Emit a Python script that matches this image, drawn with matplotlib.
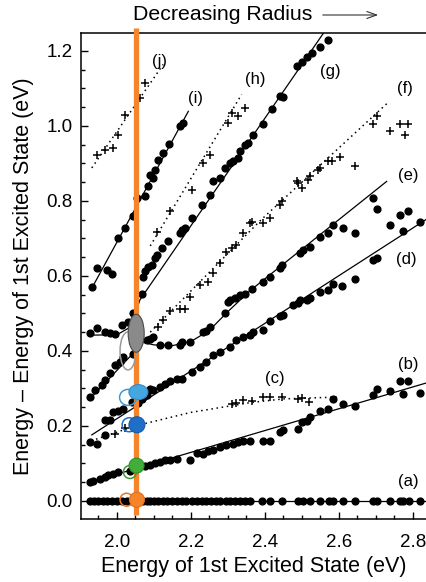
import matplotlib
matplotlib.use("Agg")
import matplotlib.pyplot as plt
from matplotlib.patches import Ellipse
from matplotlib.ticker import MultipleLocator

plt.rcParams['font.family'] = ['Liberation Sans', 'DejaVu Sans']

# ---- data (x = energy of 1st excited state, y = relative energy, eV) ----
a_x = [1.927, 1.938, 1.949, 1.963, 1.974, 1.986, 1.999, 2.013, 2.026, 2.044,
       2.071, 2.080, 2.089, 2.100, 2.112, 2.125, 2.136, 2.148, 2.161, 2.175,
       2.186, 2.202, 2.215, 2.229, 2.241, 2.253, 2.268, 2.278, 2.294, 2.305,
       2.319, 2.332, 2.346, 2.359, 2.391, 2.414, 2.445, 2.490, 2.503, 2.522,
       2.549, 2.572, 2.585, 2.610, 2.643, 2.693, 2.702, 2.738, 2.765, 2.774,
       2.788, 2.819]
a_y = [0.0] * len(a_x)

b_x = [1.927, 1.936, 1.954, 1.968, 1.976, 1.990, 2.004, 2.035, 2.076, 2.089,
       2.103, 2.116, 2.130, 2.143, 2.161, 2.197, 2.215, 2.233, 2.247, 2.260,
       2.278, 2.296, 2.314, 2.328, 2.341, 2.359, 2.395, 2.414, 2.441, 2.449,
       2.490, 2.499, 2.513, 2.522, 2.549, 2.571, 2.610, 2.643, 2.693, 2.702,
       2.738, 2.765, 2.774, 2.787, 2.819]
b_y = [0.050, 0.054, 0.059, 0.063, 0.068, 0.072, 0.077, 0.081, 0.093, 0.096,
       0.102, 0.105, 0.108, 0.110, 0.112, 0.110, 0.128, 0.126, 0.134, 0.137,
       0.143, 0.148, 0.152, 0.157, 0.161, 0.161, 0.161, 0.161, 0.185, 0.190,
       0.191, 0.210, 0.212, 0.224, 0.241, 0.246, 0.259, 0.253, 0.283, 0.298,
       0.292, 0.319, 0.284, 0.319, 0.289]

c_dot_x = [1.927, 1.945, 1.968, 2.585]
c_dot_y = [0.157, 0.152, 0.175, 0.273]
c_plus_x = [1.995, 2.022, 2.310, 2.323, 2.341, 2.364, 2.395, 2.414, 2.445, 2.490,
            2.499, 2.520]
c_plus_y = [0.179, 0.194, 0.259, 0.262, 0.268, 0.266, 0.277, 0.277, 0.277, 0.273,
            0.275, 0.264]

d_x = [1.968, 1.981, 1.990, 2.004, 2.017, 2.040, 2.058, 2.067, 2.080, 2.089,
       2.098, 2.116, 2.130, 2.143, 2.161, 2.175, 2.202, 2.224, 2.242, 2.260,
       2.278, 2.305, 2.323, 2.341, 2.359, 2.369, 2.395, 2.414, 2.441, 2.449,
       2.477, 2.490, 2.495, 2.513, 2.522, 2.549, 2.571, 2.583, 2.607, 2.643,
       2.693, 2.702, 2.774, 2.819]
d_y = [0.215, 0.215, 0.237, 0.241, 0.246, 0.264, 0.262, 0.273, 0.282, 0.299,
       0.295, 0.304, 0.313, 0.319, 0.326, 0.326, 0.344, 0.357, 0.371, 0.389,
       0.398, 0.411, 0.429, 0.438, 0.442, 0.451, 0.455, 0.480, 0.493, 0.497,
       0.522, 0.527, 0.536, 0.537, 0.540, 0.557, 0.562, 0.578, 0.574, 0.592,
       0.643, 0.649, 0.720, 0.745]

# lower branch running into the anticrossing, then flattening out as (e)
e_x = [1.927, 1.941, 1.959, 1.968, 1.981, 1.995, 2.008, 2.017, 2.044,
       2.080, 2.089, 2.098, 2.116, 2.139, 2.170, 2.175, 2.197, 2.233, 2.242,
       2.251, 2.292, 2.301, 2.305, 2.319, 2.332, 2.346, 2.364, 2.395, 2.414,
       2.441, 2.445, 2.495, 2.504, 2.522, 2.549, 2.571, 2.585, 2.610, 2.643,
       2.693, 2.702, 2.738, 2.765, 2.787]
e_y = [0.277, 0.295, 0.308, 0.322, 0.340, 0.362, 0.371, 0.384, 0.393,
       0.429, 0.433, 0.437, 0.415, 0.417, 0.415, 0.424, 0.425, 0.451, 0.453,
       0.464, 0.500, 0.531, 0.536, 0.540, 0.549, 0.553, 0.565, 0.585, 0.598,
       0.620, 0.628, 0.660, 0.669, 0.676, 0.705, 0.714, 0.736, 0.727, 0.714,
       0.807, 0.779, 0.736, 0.762, 0.773]

f_x = [2.112, 2.125, 2.143, 2.170, 2.184, 2.197, 2.224, 2.247, 2.260, 2.278,
       2.296, 2.310, 2.323, 2.341, 2.359, 2.364, 2.395, 2.414, 2.441, 2.445,
       2.486, 2.490, 2.499, 2.517, 2.522, 2.544, 2.549, 2.571, 2.580, 2.603,
       2.643, 2.693, 2.702, 2.738, 2.765, 2.778, 2.787]
f_y = [0.464, 0.482, 0.506, 0.513, 0.513, 0.545, 0.576, 0.585, 0.607, 0.634,
       0.665, 0.674, 0.683, 0.714, 0.741, 0.745, 0.741, 0.754, 0.790, 0.799,
       0.852, 0.848, 0.834, 0.856, 0.866, 0.883, 0.888, 0.906, 0.906, 0.916,
       0.892, 1.004, 1.026, 0.986, 1.004, 0.977, 1.004]

# upper branch: flat part left of the anticrossing, then (g)
g_x = [1.927, 1.945, 1.968, 1.981, 1.995, 2.013, 2.031, 2.044,
       2.067, 2.071, 2.076, 2.085, 2.094, 2.103, 2.107, 2.121, 2.139, 2.170,
       2.175, 2.184, 2.202, 2.229, 2.251, 2.260, 2.278, 2.292, 2.305, 2.314,
       2.328, 2.332, 2.346, 2.355, 2.369, 2.395, 2.418, 2.441, 2.449, 2.486,
       2.499, 2.513, 2.526, 2.549, 2.571]
g_y = [0.447, 0.460, 0.451, 0.447, 0.445, 0.469, 0.478, 0.500,
       0.553, 0.598, 0.612, 0.625, 0.629, 0.647, 0.656, 0.674, 0.692, 0.714,
       0.723, 0.727, 0.754, 0.790, 0.816, 0.852, 0.861, 0.888, 0.901, 0.906,
       0.914, 0.934, 0.950, 0.955, 0.977, 1.005, 1.044, 1.081, 1.077, 1.160,
       1.171, 1.184, 1.195, 1.210, 1.228]

h_x = [2.107, 2.143, 2.202, 2.233, 2.251, 2.301, 2.310, 2.328, 2.346]
h_y = [0.718, 0.772, 0.830, 0.901, 0.923, 1.008, 1.035, 1.026, 1.048]

i_x = [1.932, 1.945, 1.972, 1.986, 2.004, 2.022, 2.044, 2.053, 2.076, 2.085,
       2.089, 2.098, 2.103, 2.112, 2.125, 2.141, 2.170, 2.179]
i_y = [0.571, 0.620, 0.616, 0.605, 0.701, 0.727, 0.759, 0.807, 0.812, 0.839,
       0.870, 0.861, 0.883, 0.910, 0.928, 0.953, 1.001, 1.008]

j_x = [1.945, 1.968, 1.990, 2.004, 2.022, 2.062, 2.076]
j_y = [0.923, 0.937, 0.941, 0.977, 1.030, 1.075, 1.115]

# fitted curves (solid) and guides (dotted)
fit_a = ([1.920, 2.838], [0.0, 0.0])
fit_b = ([1.927, 2.838], [0.050, 0.315])
fit_d = ([1.932, 2.838], [0.176, 0.752])
fit_e = ([1.930, 2.045, 2.060, 2.100, 2.150, 2.200, 2.250, 2.300, 2.359, 2.729],
         [0.275, 0.395, 0.425, 0.416, 0.414, 0.425, 0.455, 0.505, 0.560, 0.852])
fit_g = ([1.927, 2.000, 2.030, 2.050, 2.062, 2.562],
         [0.442, 0.443, 0.460, 0.500, 0.536, 1.253])
fit_i = ([1.933, 2.193], [0.569, 1.039])
guide_c = ([1.930, 2.050, 2.200, 2.360, 2.450, 2.600],
           [0.160, 0.200, 0.236, 0.262, 0.272, 0.277])
guide_f = ([2.090, 2.390, 2.730], [0.450, 0.750, 1.060])
guide_h = ([2.090, 2.337], [0.680, 1.084])
guide_j = ([1.932, 2.125], [0.888, 1.164])

labels = ['(a)', '(b)', '(c)', '(d)', '(e)', '(f)', '(g)', '(h)', '(i)', '(j)']
label_x = [2.787, 2.787, 2.427, 2.783, 2.787, 2.778, 2.576, 2.373, 2.211, 2.116]
label_y = [0.052, 0.363, 0.327, 0.643, 0.869, 1.100, 1.145, 1.123, 1.074, 1.171]

marker_e = 2.051

fig = plt.figure(figsize=(4.27, 5.82), dpi=100)
ax = fig.add_axes([80.7 / 427, 1 - 518.5 / 582, 1 - 80.7 / 427, (518.5 - 33.3) / 582])

dot = dict(ls='none', marker='o', ms=4.9, color='black', zorder=2)
plus = dict(ls='none', marker='+', ms=5.5, mew=1.1, color='black', zorder=2)

for xs, ys in [(a_x, a_y), (b_x, b_y), (c_dot_x, c_dot_y), (d_x, d_y),
               (e_x, e_y), (g_x, g_y), (i_x, i_y)]:
    ax.plot(xs, ys, **dot)
for xs, ys in [(c_plus_x, c_plus_y), (f_x, f_y), (h_x, h_y), (j_x, j_y)]:
    ax.plot(xs, ys, **plus)

for xs, ys in [fit_a, fit_b, fit_d, fit_e, fit_g, fit_i]:
    ax.plot(xs, ys, color='black', lw=0.9, zorder=2)
for xs, ys in [guide_c, guide_f, guide_h, guide_j]:
    ax.plot(xs, ys, color='black', lw=1.1, ls=(0, (1, 2.4)), zorder=2)

for t, x, y in zip(labels, label_x, label_y):
    ax.text(x, y, t, fontsize=12, ha='center', va='center')

# orange marker line at the chosen dot size
ax.plot([marker_e, marker_e], [-0.037, 1.261], color='#f5842b', lw=3.8,
        solid_capstyle='butt', zorder=3, clip_on=False)

px = 1 / 370.0   # data units per pixel along x
py = 1 / 375.0   # data units per pixel along y
shapes = [
    # (x, y, w_px, h_px, colour)
    (2.026, 0.003, 13, 13, '#e8762a'),
    (2.035, 0.077, 13, 13, '#3a9a35'),
    (2.033, 0.203, 14, 14, '#1f6fc1'),
    (2.030, 0.276, 17, 16, '#3a9bd8'),
    (2.030, 0.400, 16, 38, '#9a9a9a'),
]
for x, y, w, h, c in shapes:
    ax.add_patch(Ellipse((x, y), w * px, h * py, fill=False, ec=c, lw=1.1, zorder=4))

filled = [
    (2.054, 0.003, 15, 15, '#f5842b', '#e06f1c'),
    (2.053, 0.094, 15, 15, '#43ad3b', '#2f8f2a'),
    (2.054, 0.203, 16, 16, '#1f6fc9', '#185aa5'),
    (2.058, 0.290, 19, 15, '#45a6e0', '#2f8ccb'),
    (2.052, 0.447, 16, 38, '#8a8a8a', '#4a4a4a'),
]
for x, y, w, h, c, ec in filled:
    ax.add_patch(Ellipse((x, y), w * px, h * py, fc=c, ec=ec, lw=0.8, zorder=5))

ax.set_xlim(1.902, 2.838)
ax.set_ylim(-0.047, 1.247)
ax.spines['right'].set_visible(False)
for s in ['left', 'bottom', 'top']:
    ax.spines[s].set_linewidth(1.1)

ax.xaxis.set_major_locator(MultipleLocator(0.2))
ax.xaxis.set_minor_locator(MultipleLocator(0.05))
ax.yaxis.set_major_locator(MultipleLocator(0.2))
ax.yaxis.set_minor_locator(MultipleLocator(0.05))
ax.xaxis.set_major_formatter(lambda v, p: f'{v:.1f}')
ax.yaxis.set_major_formatter(lambda v, p: f'{v:.1f}')
ax.tick_params(which='both', direction='in', top=False, right=False, width=1.0,
               labelsize=13.5)
ax.tick_params(which='major', length=5)
ax.tick_params(which='minor', length=2.8)
ax.tick_params(axis='x', pad=11)
ax.tick_params(axis='y', pad=6)

ax.set_xlabel('Energy of 1st Excited State (eV)', fontsize=15.5, labelpad=4)
ax.set_ylabel('Energy – Energy of 1st Excited State (eV)', fontsize=15.5, labelpad=9)

fig.text(133 / 427, 1 - 15 / 582, 'Decreasing Radius', fontsize=15.3,
         ha='left', va='center')
ax.annotate('', xy=(381, 582 - 15), xytext=(320, 582 - 15),
            xycoords='figure pixels', textcoords='figure pixels',
            arrowprops=dict(arrowstyle='->,head_length=0.7,head_width=0.25',
                            lw=0.8, color='#333333'))

fig.savefig('out.png', dpi=100)
